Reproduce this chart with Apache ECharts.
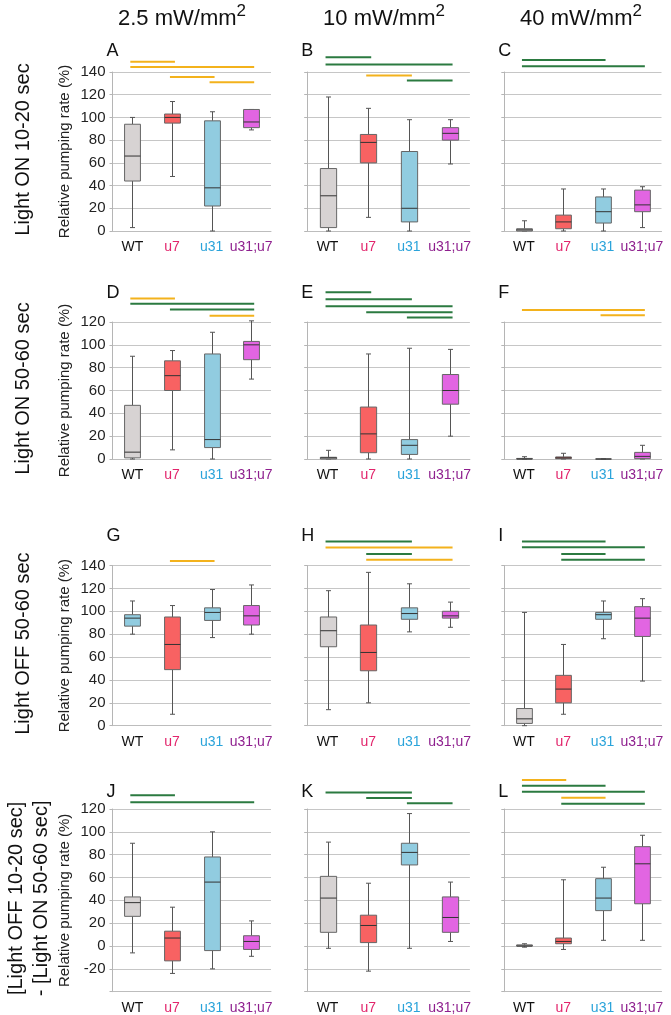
<!DOCTYPE html>
<html><head><meta charset="utf-8">
<script src="https://cdn.jsdelivr.net/npm/echarts@6/dist/echarts.min.js"></script>
<style>html,body{margin:0;padding:0;background:#fff}#c{width:671px;height:1015px}</style>
</head><body><div id="c"></div>
<script>
// ---------- DATA ----------
const categories = ['WT', 'u7', 'u31', 'u31;u7'];
const columnTitles = ['2.5 mW/mm', '10 mW/mm', '40 mW/mm'];
const rowTitles = [['Light ON 10-20 sec'], ['Light ON 50-60 sec'], ['Light OFF 50-60 sec'], ['[Light OFF 10-20 sec]', '- [Light ON 50-60 sec]']];
const panelLetters = ['A', 'B', 'C', 'D', 'E', 'F', 'G', 'H', 'I', 'J', 'K', 'L'];
const yAxisName = 'Relative pumping rate (%)';
const rowAxisMin = [0, 0, 0, -40];
const rowAxisMax = [140, 120, 140, 120];
const yStep = 20;

// box stats per category: [min, Q1, median, Q3, max]
const boxA = [[3, 44, 66, 94, 100], [48, 95, 100, 103, 114], [0, 22, 38, 97, 105], [89, 91, 96, 107, 107]];
const boxB = [[0, 3, 31, 55, 118], [12, 60, 78, 85, 108], [0, 8, 20, 70, 98], [59, 80, 86, 91, 98]];
const boxC = [[0, 0, 1, 2, 9], [0, 2, 8, 14, 37], [0, 7, 17, 30, 37], [3, 17, 23, 36, 39]];
const boxD = [[0, 1, 6, 47, 90], [8, 60, 73, 86, 95], [0, 10, 17, 92, 111], [70, 87, 100, 103, 121]];
const boxE = [[0, 0, 1, 1.5, 7.6], [0, 5.5, 22, 45.5, 92], [0, 4, 12, 17, 97], [20, 48, 60, 74, 96]];
const boxF = [[0, 0, 0, 0.5, 2], [0, 0.3, 1, 1.8, 5], [0, 0, 0, 0, 0], [0, 0.3, 2.3, 5.8, 12]];
const boxG = [[80, 87, 94, 97, 109], [10, 49, 71, 95, 105], [77, 92, 99, 103, 119], [80, 88, 96, 105, 123]];
const boxH = [[14, 69, 83, 95, 118], [20, 48, 64, 88, 134], [82, 93, 98, 103, 124], [86, 94, 96, 100, 108]];
const boxI = [[0, 2, 6, 15, 99], [10, 20, 32, 44, 71], [76, 93, 97, 99, 109], [39, 78, 94, 104, 111]];
const boxJ = [[-6, 26, 38, 43, 90], [-24, -13, 7, 13, 34], [-20, -4, 56, 78, 100], [-9, -3, 4, 9, 22]];
const boxK = [[-2, 12, 42, 61, 91], [-22, 3, 18, 27, 55], [-2, 71, 82, 90, 116], [4, 12, 25, 43, 56]];
const boxL = [[-1, 0, 0, 1, 2], [-3, 2, 4, 7, 58], [5, 31, 42, 59, 69], [5, 37, 72, 87, 97]];

// significance bars: [fromCategory, toCategory, height (% units), level]  level: 'p05' / 'p01'
const sigA = [[0, 1, 149, 'p05'], [0, 3, 144.5, 'p05'], [1, 2, 135.5, 'p05'], [2, 3, 131, 'p05']];
const sigB = [[0, 1, 153, 'p01'], [0, 3, 146.5, 'p01'], [1, 2, 137, 'p05'], [2, 3, 132.5, 'p01']];
const sigC = [[0, 2, 150.5, 'p01'], [0, 3, 145, 'p01']];
const sigD = [[0, 1, 140.5, 'p05'], [0, 3, 136, 'p01'], [1, 3, 131, 'p01'], [2, 3, 125.5, 'p05']];
const sigE = [[0, 1, 146, 'p01'], [0, 2, 140, 'p01'], [0, 3, 133.7, 'p01'], [1, 3, 128.5, 'p01'], [2, 3, 124, 'p01']];
const sigF = [[0, 3, 130.5, 'p05'], [2, 3, 126, 'p05']];
const sigG = [[1, 2, 144, 'p05']];
const sigH = [[0, 2, 161, 'p01'], [0, 3, 155.8, 'p05'], [1, 2, 150, 'p01'], [1, 3, 145, 'p05']];
const sigI = [[0, 2, 161, 'p01'], [0, 3, 156, 'p01'], [1, 2, 150, 'p01'], [1, 3, 145, 'p01']];
const sigJ = [[0, 1, 132, 'p01'], [0, 3, 126, 'p01']];
const sigK = [[0, 2, 134.5, 'p01'], [1, 2, 129.6, 'p01'], [2, 3, 125, 'p01']];
const sigL = [[0, 1, 145.5, 'p05'], [0, 2, 140.3, 'p01'], [0, 3, 135, 'p01'], [1, 2, 129.8, 'p05'], [1, 3, 124.6, 'p01']];

const boxes = [boxA, boxB, boxC, boxD, boxE, boxF, boxG, boxH, boxI, boxJ, boxK, boxL];
const sigs = [sigA, sigB, sigC, sigD, sigE, sigF, sigG, sigH, sigI, sigJ, sigK, sigL];

// ---------- STYLE / LAYOUT ----------
const FONT = 'Liberation Sans, Arial, sans-serif';
const fillColors = ['#d7d3d3', '#f86262', '#91cce0', '#e265e2'];
const labelColors = ['#111111', '#e2256c', '#2aa3da', '#8e1f8e'];
const fillOverrides = [{ panel: 'G', category: 'WT', like: 'u31' }];
const sigColors = { p05: '#f3b21c', p01: '#2b7a40' };
const colLeft = [112.5, 307.2, 504.3];
const colWidth = [158.5, 162.7, 157.2];
const rowTop = [72, 322, 565.5, 809];
const rowHeight = [159, 137, 160.2, 182.7];
const letterY = [51, 293.5, 536.5, 792];
const titleX = [182, 384, 581];

function fillFor(panelIdx, catIdx) {
  let key = categories[catIdx];
  fillOverrides.forEach(o => {
    if (o.panel === panelLetters[panelIdx] && o.category === categories[catIdx]) key = o.like;
  });
  return fillColors[categories.indexOf(key)];
}

const grids = [], xAxes = [], yAxes = [], series = [], graphics = [];
for (let r = 0; r < 4; r++) {
  for (let c = 0; c < 3; c++) {
    const i = r * 3 + c;
    grids.push({ left: colLeft[c], top: rowTop[r], width: colWidth[c], height: rowHeight[r] });
    xAxes.push({
      gridIndex: i, type: 'category',
      data: categories.map((n, k) => ({ value: n, textStyle: { color: labelColors[k] } })),
      axisLine: { show: true, onZero: false, lineStyle: { color: '#bdbdbd' } },
      axisTick: { show: false },
      axisLabel: { interval: 0, fontSize: 14, fontFamily: FONT, margin: 9 }
    });
    yAxes.push({
      gridIndex: i, type: 'value', min: rowAxisMin[r], max: rowAxisMax[r], interval: yStep,
      axisLine: { show: true, lineStyle: { color: '#b5b5b5' } },
      axisTick: { show: true, length: 3, lineStyle: { color: '#b5b5b5' } },
      splitLine: { show: true, lineStyle: { color: '#c6c6c6', width: 1 } },
      axisLabel: {
        show: c === 0, fontSize: 15, fontFamily: FONT, color: '#222', margin: 7,
        formatter: v => (r === 3 && v === -40) ? '' : String(v)
      },
      name: c === 0 ? yAxisName : '', nameLocation: 'middle', nameGap: 40,
      nameTextStyle: { fontSize: 15, fontFamily: FONT, color: '#222' }
    });
    const box = boxes[i];
    series.push({
      type: 'custom', xAxisIndex: i, yAxisIndex: i, silent: true, z: 3,
      data: box.map((b, k) => [k].concat(b)),
      encode: { x: 0, y: [1, 2, 3, 4, 5] },
      renderItem: (params, api) => {
        const k = api.value(0);
        const p = [1, 2, 3, 4, 5].map(d => api.coord([k, api.value(d)]));
        const x = Math.round(p[0][0]) + 0.5;
        const half = api.size([1, 0])[0] * 0.2;
        const cap = 2.5;
        const ln = { stroke: '#555', lineWidth: 1 };
        return {
          type: 'group', children: [
            { type: 'line', shape: { x1: x, y1: p[4][1], x2: x, y2: p[3][1] }, style: ln },
            { type: 'line', shape: { x1: x, y1: p[1][1], x2: x, y2: p[0][1] }, style: ln },
            { type: 'line', shape: { x1: x - cap, y1: p[4][1], x2: x + cap, y2: p[4][1] }, style: ln },
            { type: 'line', shape: { x1: x - cap, y1: p[0][1], x2: x + cap, y2: p[0][1] }, style: ln },
            { type: 'rect', shape: { x: x - half, y: p[3][1], width: 2 * half, height: p[1][1] - p[3][1] },
              style: { fill: fillFor(i, k), stroke: '#666', lineWidth: 1 } },
            { type: 'line', shape: { x1: x - half, y1: p[2][1], x2: x + half, y2: p[2][1] }, style: { stroke: '#333', lineWidth: 1 } }
          ]
        };
      }
    });
    const sig = sigs[i];
    series.push({
      type: 'custom', xAxisIndex: i, yAxisIndex: i, silent: true, clip: false, z: 4,
      data: sig.map(s => [s[0], s[1], s[2]]),
      encode: { x: [0, 1], y: 2 },
      renderItem: (params, api) => {
        const a = api.coord([api.value(0), api.value(2)]);
        const b = api.coord([api.value(1), api.value(2)]);
        return { type: 'line', shape: { x1: a[0] - 2, y1: a[1], x2: b[0] + 3, y2: b[1] },
          style: { stroke: sigColors[sig[params.dataIndex][3]], lineWidth: 2 } };
      }
    });
    graphics.push({ type: 'text', x: colLeft[c] - 6, y: letterY[r],
      style: { text: panelLetters[i], fontSize: 18, fontFamily: FONT, fill: '#111', align: 'left', verticalAlign: 'middle' } });
  }
}

columnTitles.forEach((t, c) => {
  graphics.push({ type: 'text', x: titleX[c], y: 16,
    style: { text: '{a|' + t + '}{b|2}', align: 'center', verticalAlign: 'middle',
      rich: { a: { fontSize: 22, fontFamily: FONT, fill: '#111', lineHeight: 27, verticalAlign: 'bottom' },
              b: { fontSize: 17, fontFamily: FONT, fill: '#111', lineHeight: 17, verticalAlign: 'top' } } } });
});

rowTitles.forEach((lines, r) => {
  const cy = rowTop[r] + rowHeight[r] / 2 - 2;
  lines.forEach((t, j) => {
    const cx = lines.length === 1 ? 23 : 16 + j * 25;
    graphics.push({ type: 'text', x: cx, y: cy, rotation: Math.PI / 2,
      style: { text: t, fontSize: 20, fontFamily: FONT, fill: '#111', align: 'center', verticalAlign: 'middle' } });
  });
});

const chart = echarts.init(document.getElementById('c'), null, { renderer: 'canvas' });
chart.setOption({
  animation: false,
  backgroundColor: '#fff',
  grid: grids, xAxis: xAxes, yAxis: yAxes, series: series,
  graphic: { elements: graphics }
});
</script></body></html>
